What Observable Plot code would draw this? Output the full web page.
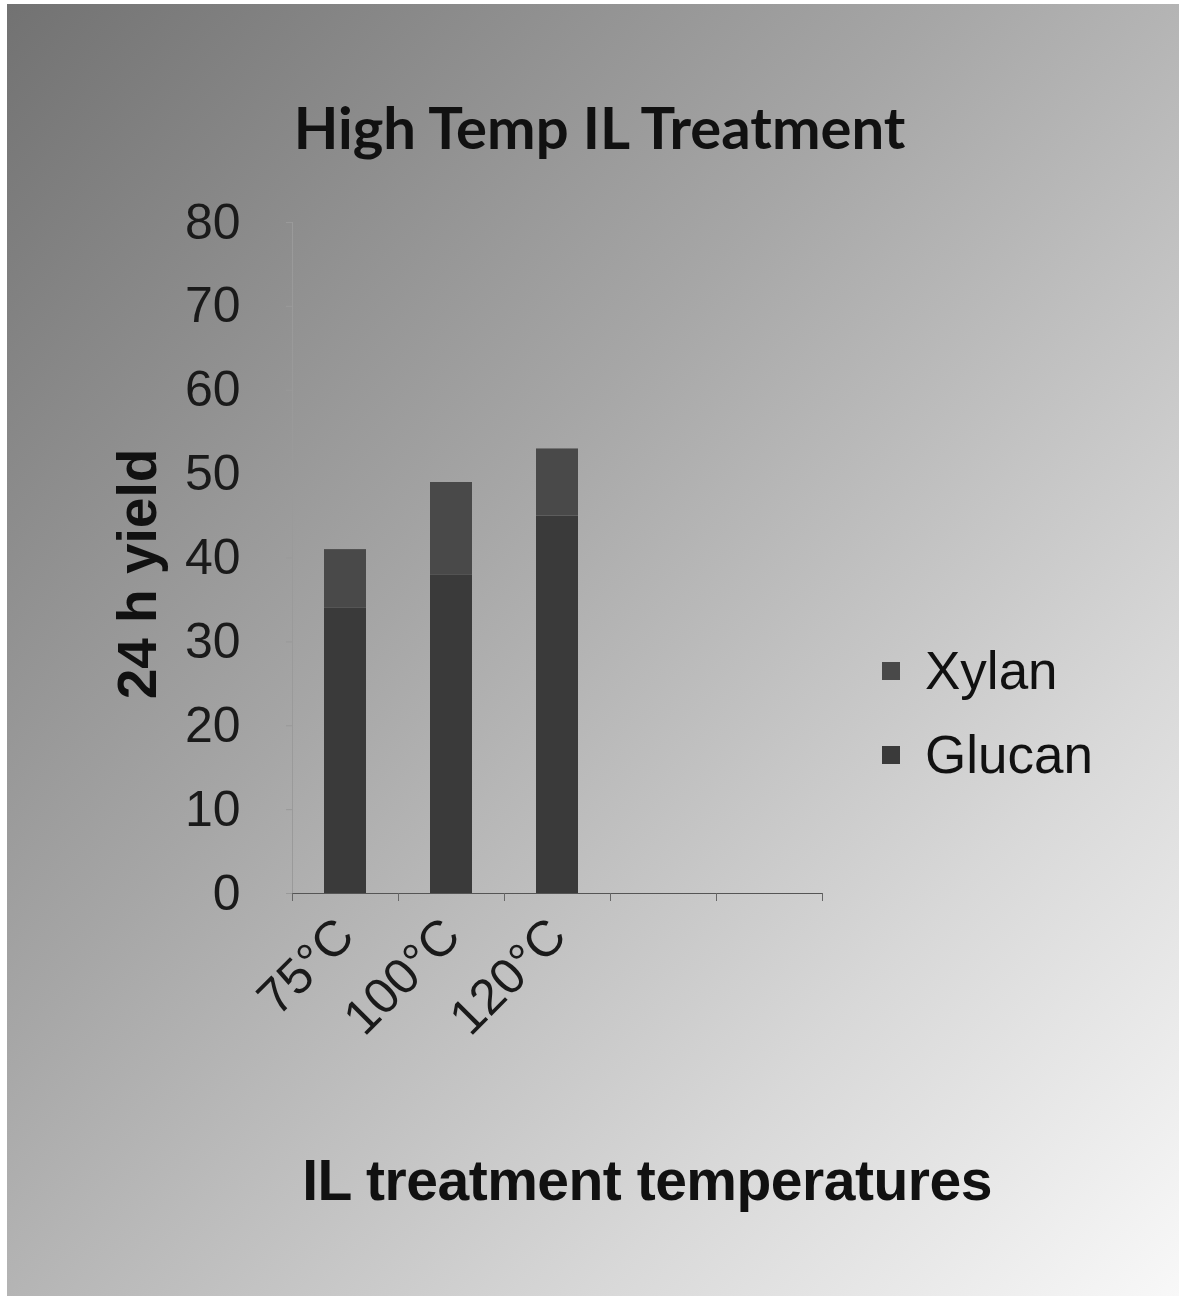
<!DOCTYPE html>
<html>
<head>
<meta charset="utf-8">
<script src="https://cdn.jsdelivr.net/npm/d3@7"></script>
<script src="https://cdn.jsdelivr.net/npm/@observablehq/plot@0.6"></script>
<style>
  html, body { margin: 0; padding: 0; background: #ffffff; }
  #page { position: relative; width: 1179px; height: 1296px; overflow: hidden; }
  #bg { position: absolute; left: 7px; top: 4px; right: 0; bottom: 0;
        background: linear-gradient(to bottom right, #727272 0%, #a6a6a6 40%, #d8d8d8 75%, #f8f8f8 100%); }
  #chart { position: absolute; left: 0; top: 0; }
  #title { position: absolute; left: 0; width: 1199px; top: 98px; text-align: center;
           font-family: Lato, "Open Sans", sans-serif; font-weight: 700; font-size: 58px; color: #111; line-height: 1; }
  #xlabel { position: absolute; left: 0; width: 1294px; top: 1152px; text-align: center;
            font-family: "Liberation Sans", Arial, sans-serif; font-weight: 700; font-size: 57px; color: #111; line-height: 1; letter-spacing: -0.5px; }
  #ylabel { position: absolute; left: 137px; top: 574px; transform: translate(-50%, -50%) rotate(-90deg);
            white-space: nowrap; font-family: "Liberation Sans", Arial, sans-serif; font-weight: 700; font-size: 55px; color: #111; line-height: 1; }
  #legend { position: absolute; left: 882px; top: 629px; font-family: "Liberation Sans", Arial, sans-serif;
            font-size: 53px; color: #111; line-height: 84px; }
  #legend .row { display: flex; align-items: center; height: 84px; }
  #legend .sw { width: 18px; height: 18px; margin-right: 25px; }
  svg text { font-family: "Liberation Sans", Arial, sans-serif; }
</style>
</head>
<body>
<div id="page">
  <div id="bg"></div>
  <div id="chart"></div>
  <div id="title"></div>
  <div id="ylabel"></div>
  <div id="legend"></div>
  <div id="xlabel"></div>
</div>
<script>
// ---- data ----
const titleText = "High Temp IL Treatment";
const xLabelText = "IL treatment temperatures";
const yLabelText = "24 h yield";
const categories = ["75°C", "100°C", "120°C"];
const emptySlots = ["slot4", "slot5"];
const glucan = [34, 38, 45];
const xylan = [7, 11, 8];
const seriesNames = ["Xylan", "Glucan"];
const seriesColors = ["#494949", "#3a3a3a"];
const yTicks = [0, 10, 20, 30, 40, 50, 60, 70, 80];

const rows = [];
categories.forEach((c, i) => {
  rows.push({cat: c, series: "Glucan", value: glucan[i]});
  rows.push({cat: c, series: "Xylan", value: xylan[i]});
});
const xDomain = categories.concat(emptySlots);

const W = 1179, H = 1296;
const chart = Plot.plot({
  width: W,
  height: H,
  marginLeft: 292,
  marginRight: 357,
  marginTop: 222,
  marginBottom: 403,
  style: {background: "transparent", overflow: "visible"},
  x: {type: "band", domain: xDomain, paddingInner: 0.6, paddingOuter: 0.3, label: null},
  y: {domain: [0, 80], label: null},
  color: {domain: seriesNames, range: seriesColors},
  marks: [
    Plot.frame({anchor: "left", stroke: "#9a9a9a"}),
    Plot.barY(rows, Plot.stackY({order: ["Glucan", "Xylan"]}, {x: "cat", y: "value", z: "series", fill: "series"})),
    Plot.ruleY([0], {stroke: "#555"}),
    Plot.axisY({ticks: yTicks, tickSize: 6, tickPadding: 46, fontSize: 50, stroke: "#999", fill: "#1a1a1a", label: null}),
    Plot.axisX({tickSize: 0, tickPadding: 34, tickRotate: -45, fontSize: 50, fill: "#1a1a1a",
                tickFormat: d => categories.includes(d) ? d : "", label: null}),
    Plot.axisX(xDomain, {tickSize: 8, dx: -53, text: null, stroke: "#666", label: null}),
    Plot.axisX([xDomain[xDomain.length - 1]], {tickSize: 8, dx: 53, text: null, stroke: "#666", label: null})
  ]
});
document.getElementById("chart").appendChild(chart);

document.getElementById("title").textContent = titleText;
document.getElementById("xlabel").textContent = xLabelText;
document.getElementById("ylabel").textContent = yLabelText;
const legend = document.getElementById("legend");
seriesNames.forEach((s, i) => {
  const row = document.createElement("div");
  row.className = "row";
  const sw = document.createElement("div");
  sw.className = "sw";
  sw.style.background = seriesColors[i];
  const lab = document.createElement("span");
  lab.textContent = s;
  row.appendChild(sw);
  row.appendChild(lab);
  legend.appendChild(row);
});
</script>
</body>
</html>
